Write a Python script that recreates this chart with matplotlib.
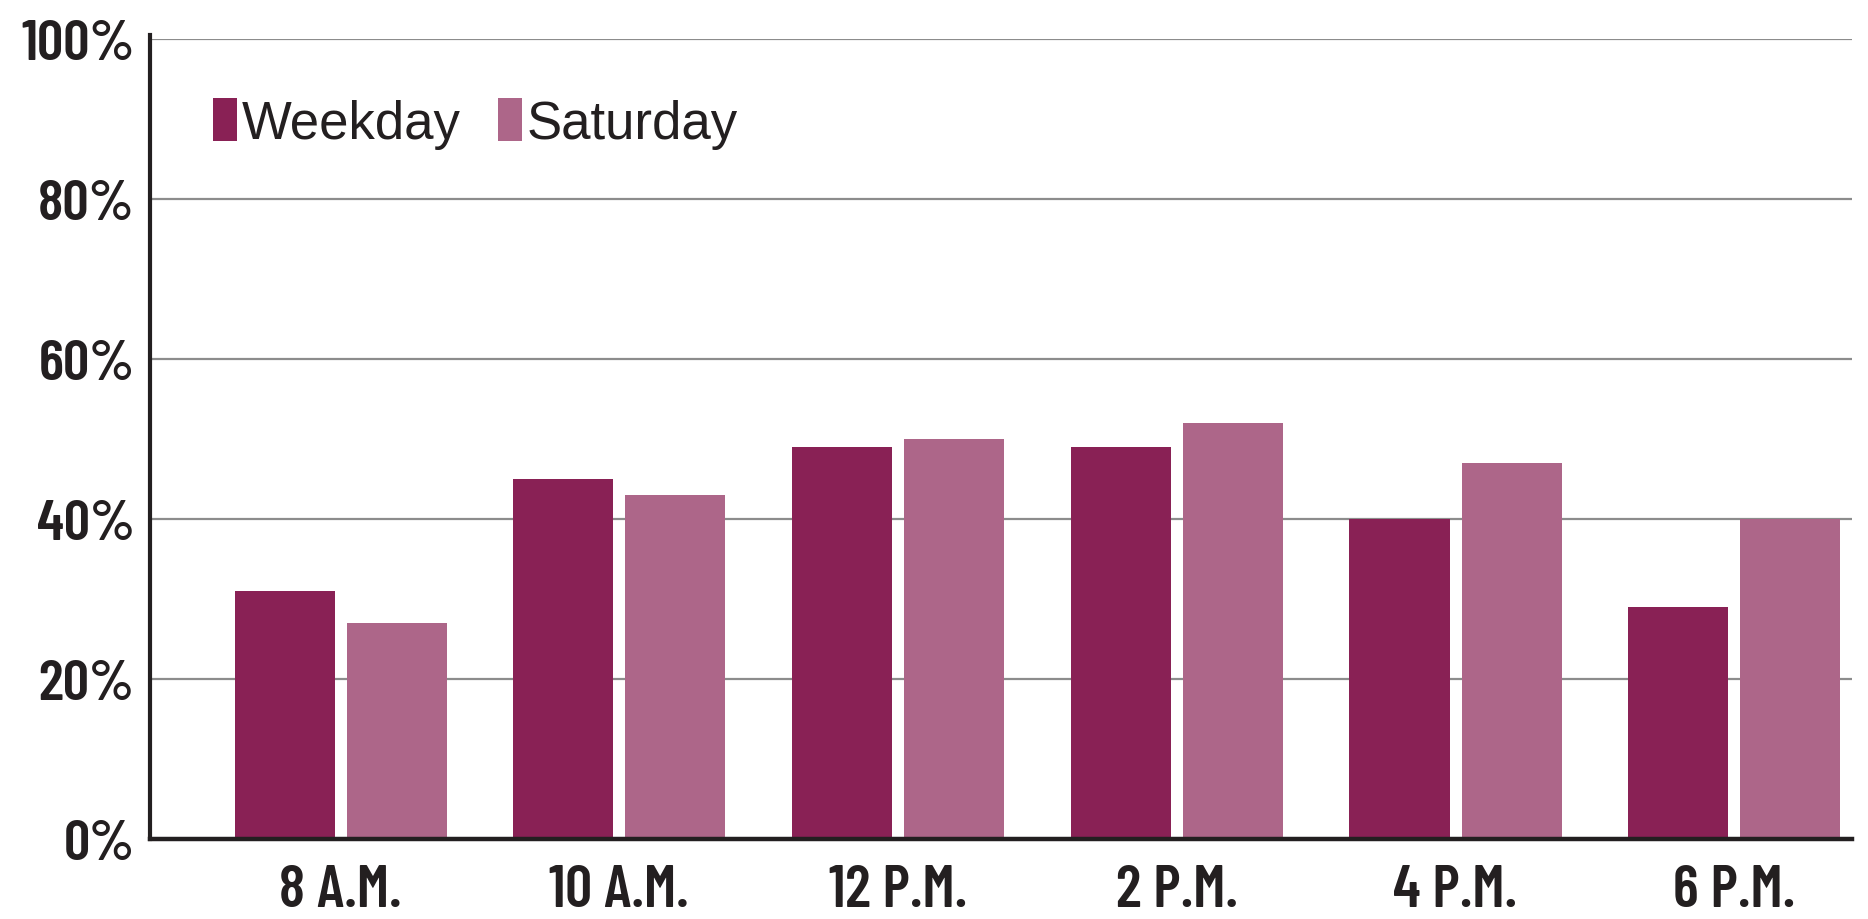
import numpy as np
import matplotlib.pyplot as plt

# Share of visitors by time of day
times = ["8 A.M.", "10 A.M.", "12 P.M.", "2 P.M.", "4 P.M.", "6 P.M."]
weekday = [31, 45, 49, 49, 40, 29]
saturday = [27, 43, 50, 52, 47, 40]
y_ticks = [0, 20, 40, 60, 80, 100]

dark = "#892155"
light = "#ad6689"
ink = "#231f20"

cond = ["Barlow Condensed", "Roboto Condensed", "DejaVu Sans"]
plain = ["Liberation Sans", "DejaVu Sans"]

fig = plt.figure(figsize=(18.68, 9.2), dpi=100)
ax = fig.add_axes([0.0803, 0.087, 0.9112, 0.869])

x = np.arange(len(times))
w = 0.359
off = 0.201
ax.bar(x - off, weekday, w, color=dark, label="Weekday", zorder=3)
ax.bar(x + off, saturday, w, color=light, label="Saturday", zorder=3)

ax.set_xlim(-0.684, 5.423)
ax.set_ylim(0, 100)
ax.set_yticks(y_ticks)
ax.set_yticklabels([f"{v}%" for v in y_ticks], family=cond, fontweight="semibold",
                   fontsize=42, color=ink)
ax.set_xticks(x)
ax.set_xticklabels(times, family=cond, fontweight="semibold", fontsize=43, color=ink)
ax.tick_params(axis="both", length=0)
ax.tick_params(axis="y", pad=11)
ax.tick_params(axis="x", pad=18)

ax.yaxis.grid(True, color="#8c8c8c", linewidth=1.6)
ax.set_axisbelow(True)
for s in ["top", "right"]:
    ax.spines[s].set_visible(False)
ax.spines["left"].set_color(ink)
ax.spines["left"].set_linewidth(3.0)
ax.spines["left"].set_bounds(0, 100.6)
ax.spines["bottom"].set_color(ink)
ax.spines["bottom"].set_linewidth(3.2)
ax.spines["bottom"].set_zorder(4)

leg = ax.legend(loc="center left", bbox_to_anchor=(0.037, 0.895), ncol=2,
                frameon=False, borderpad=0, borderaxespad=0,
                handlelength=0.45, handleheight=0.89, handletextpad=0.1,
                columnspacing=0.7, prop={"family": plain, "size": 38})
for t in leg.get_texts():
    t.set_color(ink)

fig.savefig("out.png", dpi=100)
